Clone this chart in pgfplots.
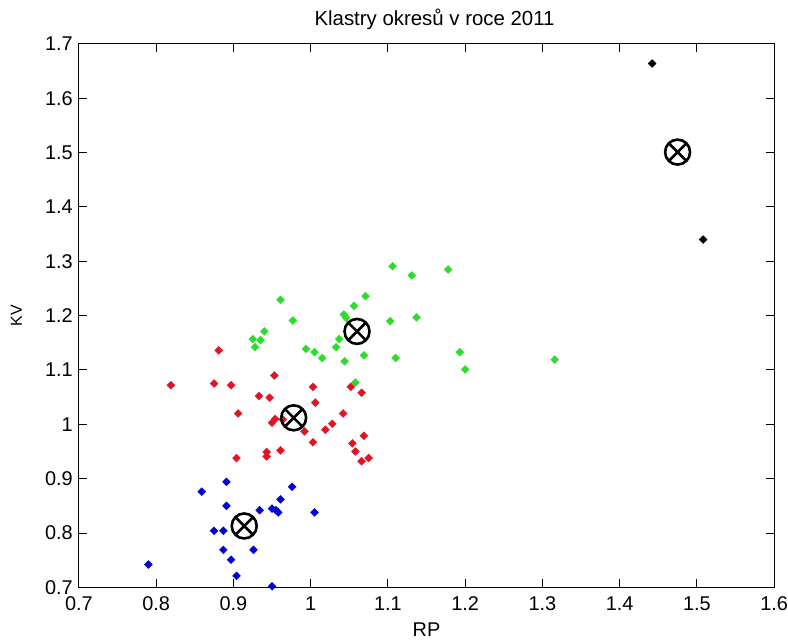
\documentclass[border=0pt]{standalone}
\usepackage{pgfplots}
\pgfplotsset{compat=1.18}
\usepackage{fontspec}
\setmainfont{Liberation Sans}
\definecolor{cred}{RGB}{225,20,35}
\definecolor{cgreen}{RGB}{45,220,45}
\definecolor{cblue}{RGB}{0,0,210}
\begin{document}
\begin{tikzpicture}
\begin{axis}[
  scale only axis,
  width=696bp, height=544bp,
  xmin=0.7, xmax=1.6, ymin=0.7, ymax=1.7,
  xtick={0.7,0.8,0.9,1.0,1.1,1.2,1.3,1.4,1.5,1.6},
  ytick={0.7,0.8,0.9,1.0,1.1,1.2,1.3,1.4,1.5,1.6,1.7},
  xticklabels={0.7,0.8,0.9,1,1.1,1.2,1.3,1.4,1.5,1.6},
  yticklabels={0.7,0.8,0.9,1,1.1,1.2,1.3,1.4,1.5,1.6,1.7},
  tick align=inside,
  major tick length=8bp,
  axis line style={line width=1bp},
  every tick/.style={line width=1bp, black},
  tick label style={font=\fontsize{20}{22}\selectfont},
  xticklabel style={anchor=north, inner sep=0pt, yshift=-9bp},
  yticklabel style={anchor=east, inner sep=0pt, xshift=-6bp},
  title={Klastry okresů v roce 2011},
  title style={font=\fontsize{20.5}{23}\selectfont, at={(0.5,1)}, anchor=base, yshift=12bp, xshift=8bp},
  xlabel={RP},
  xlabel style={font=\fontsize{20}{22}\selectfont, at={(0.5,0)}, anchor=base, yshift=-49bp},
  ylabel={KV},
  ylabel style={font=\fontsize{16}{18}\selectfont, at={(0,0.5)}, anchor=base, yshift=57bp},
  clip=false,
  mymark/.style={only marks, mark=square*, mark size=2.8bp, mark options={rotate=45}},
]
\addplot[mymark, color=cblue] coordinates {
(0.790,0.742) (0.859,0.876) (0.875,0.804) (0.887,0.804) (0.887,0.769)
(0.891,0.894) (0.891,0.850) (0.897,0.751) (0.904,0.721) (0.926,0.769)
(0.934,0.842) (0.950,0.845) (0.955,0.842) (0.958,0.838) (0.961,0.862)
(0.976,0.885) (1.005,0.838) (0.950,0.702)
};
\addplot[mymark, color=cred] coordinates {
(0.819,1.072) (0.875,1.075) (0.881,1.136) (0.897,1.072) (0.904,0.938)
(0.906,1.020) (0.933,1.052) (0.943,0.949) (0.943,0.941) (0.947,1.049)
(0.950,1.003) (0.954,1.010) (0.953,1.090) (0.961,0.952) (0.964,1.009)
(0.992,0.987) (1.003,1.069) (1.003,0.967) (1.006,1.040) (1.019,0.990)
(1.028,1.001) (1.042,1.020) (1.052,1.069) (1.054,0.965) (1.058,0.950)
(1.066,1.058) (1.069,0.979) (1.066,0.932) (1.075,0.938)
};
\addplot[mymark, color=cgreen] coordinates {
(0.925,1.157) (0.928,1.142) (0.935,1.155) (0.940,1.171) (0.961,1.229)
(0.977,1.191) (0.994,1.139) (1.005,1.133) (1.015,1.122) (1.033,1.142)
(1.037,1.157) (1.043,1.202) (1.046,1.196) (1.044,1.116) (1.056,1.218)
(1.058,1.077) (1.069,1.127) (1.071,1.236) (1.103,1.190) (1.106,1.291)
(1.110,1.122) (1.131,1.274) (1.137,1.197) (1.178,1.285) (1.193,1.133)
(1.200,1.101) (1.316,1.119)
};
\addplot[mymark, color=black] coordinates {
(1.442,1.664) (1.508,1.340)
};
\addplot[only marks, mark=otimes, mark size=12.5bp, color=black, mark options={line width=2.6bp}] coordinates {
(0.914,0.813) (0.978,1.012) (1.060,1.171) (1.475,1.501)
};
\end{axis}
\path (current axis.south west) ++(-79bp,-53bp) rectangle ++(788bp,641bp);
\end{tikzpicture}
\end{document}
